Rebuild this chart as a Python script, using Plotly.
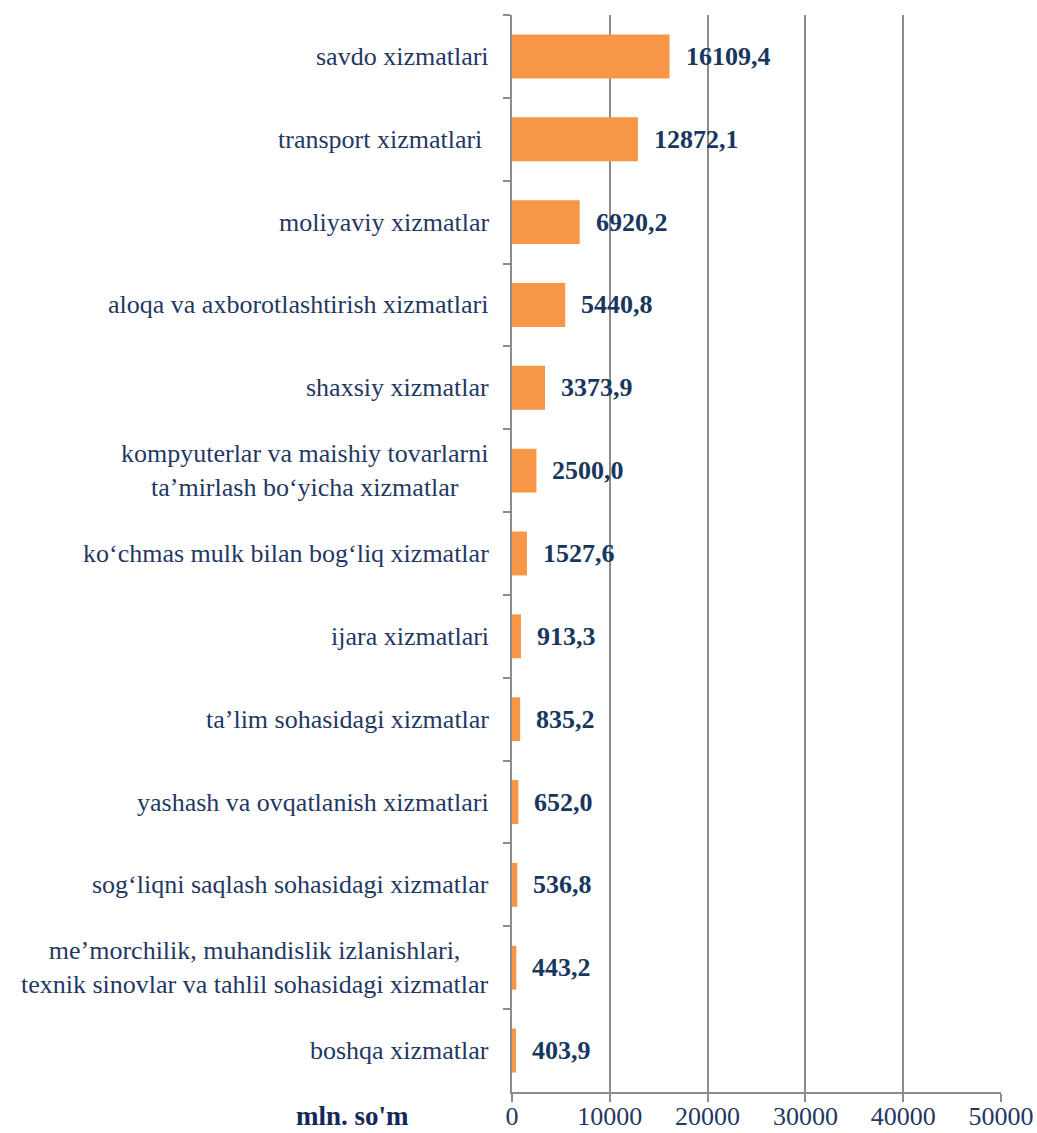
import plotly.graph_objects as go

categories = [
    "savdo xizmatlari",
    "transport xizmatlari ",
    "moliyaviy xizmatlar",
    "aloqa va axborotlashtirish xizmatlari",
    "shaxsiy xizmatlar",
    "kompyuterlar va maishiy tovarlarni<br>ta’mirlash bo‘yicha xizmatlar",
    "ko‘chmas mulk bilan bog‘liq xizmatlar",
    "ijara xizmatlari",
    "ta’lim sohasidagi xizmatlar",
    "yashash va ovqatlanish xizmatlari",
    "sog‘liqni saqlash sohasidagi xizmatlar",
    "me’morchilik, muhandislik izlanishlari,<br>texnik sinovlar va tahlil sohasidagi xizmatlar",
    "boshqa xizmatlar",
]
values = [16109.4, 12872.1, 6920.2, 5440.8, 3373.9, 2500.0, 1527.6,
          913.3, 835.2, 652.0, 536.8, 443.2, 403.9]
value_labels = ["16109,4", "12872,1", "6920,2", "5440,8", "3373,9", "2500,0", "1527,6",
                "913,3", "835,2", "652,0", "536,8", "443,2", "403,9"]
x_ticks = [0, 10000, 20000, 30000, 40000, 50000]
unit_label = "mln. so'm"

NAVY = "#1F3864"
LABEL_NAVY = "#17375E"
GRID = "#8C8C8C"
SERIF = "Liberation Serif"

fig = go.Figure()
fig.add_trace(go.Bar(
    x=values, y=categories, orientation="h",
    marker=dict(color="#F79646", line=dict(width=0)),
    width=0.53, hoverinfo="skip",
))

for c, v, t in zip(categories, values, value_labels):
    fig.add_annotation(x=v, y=c, xref="x", yref="y", text=f"<b>{t}</b>",
                       showarrow=False, xanchor="left", yanchor="middle", xshift=14,
                       font=dict(family=SERIF, size=26, color=LABEL_NAVY))
    fig.add_annotation(x=0, y=c, xref="paper", yref="y", text=c,
                       showarrow=False, xanchor="right", yanchor="middle", xshift=-21,
                       align="center",
                       font=dict(family=SERIF, size=26, color=NAVY))

fig.add_annotation(x=-0.327, y=0, xref="paper", yref="paper", text=f"<b>{unit_label}</b>",
                   showarrow=False, xanchor="center", yanchor="top", yshift=-7,
                   font=dict(family=SERIF, size=27, color="#14285A"))

fig.update_layout(
    width=1037, height=1133,
    margin=dict(l=512, r=36, t=15, b=41),
    paper_bgcolor="white", plot_bgcolor="white",
    showlegend=False,
    xaxis=dict(range=[0, 50000], tickvals=x_ticks, ticktext=[str(v) for v in x_ticks],
               showgrid=True, gridcolor=GRID, gridwidth=1.5,
               showline=True, linecolor=GRID, linewidth=1.5,
               ticks="outside", ticklen=8, tickcolor=GRID, tickwidth=1.5,
               ticklabelstandoff=-8,
               zeroline=False, automargin=False,
               tickfont=dict(family=SERIF, size=26, color=NAVY)),
    yaxis=dict(type="category", categoryorder="array", categoryarray=categories,
               autorange="reversed", showticklabels=False,
               tickson="boundaries", ticks="outside", ticklen=7,
               tickcolor=GRID, tickwidth=1.5, showgrid=False, automargin=False,
               showline=True, linecolor=GRID, linewidth=1.5, zeroline=False),
)

fig.write_html(
    "out.html",
    config={"displayModeBar": False},
    post_script="document.body.style.margin='0';document.body.style.overflow='hidden';",
)
